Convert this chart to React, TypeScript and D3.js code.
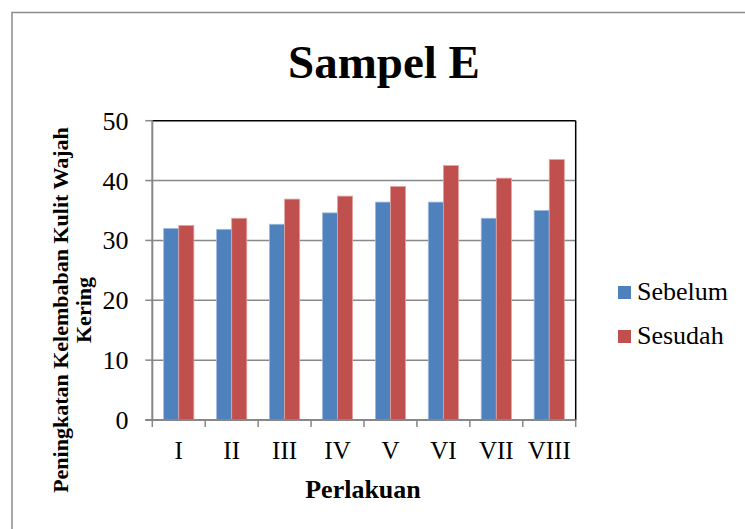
import React from "react";
import * as d3 from "d3";

const categories = ["I", "II", "III", "IV", "V", "VI", "VII", "VIII"];
const sebelum = [32.0, 31.85, 32.7, 34.6, 36.4, 36.4, 33.7, 35.0];
const sesudah = [32.5, 33.7, 36.9, 37.4, 39.0, 42.5, 40.4, 43.5];
const yTicks = [0, 10, 20, 30, 40, 50];
const seriesNames = ["Sebelum", "Sesudah"];
const seriesColors = ["#4F81BD", "#C0504D"];
const seriesStroke = ["#9DB9DE", "#E3A2A0"];

const W = 745;
const H = 529;
const plot = { left: 152.3, right: 575.7, top: 120.7, bottom: 420 };
const FF = "Liberation Serif";

export default function App() {
  const x = d3.scaleBand<string>().domain(categories).range([plot.left, plot.right]).paddingInner(0).paddingOuter(0);
  const y = d3.scaleLinear().domain([0, 50]).range([plot.bottom, plot.top]);
  const bw = x.bandwidth();
  const barW = bw * 0.285;
  const data = [sebelum, sesudah];

  return (
    <div style={{ fontFamily: FF }}>
      <svg width={W} height={H} style={{ position: "absolute", left: 0, top: 0, background: "#fff", fontFamily: FF }} fontFamily={FF}>
        <style>{`text, tspan { font-family: "Liberation Serif", "Tinos", "Times New Roman", serif; }`}</style>
        <rect x={0} y={0} width={W} height={H} fill="#fff" />
        <rect x={12} y={12.5} width={W + 20} height={H + 20} fill="none" stroke="#8c8c8c" strokeWidth={1.5} />

        {yTicks.filter((t) => t > 0 && t < 50).map((t) => (
          <line key={t} x1={plot.left} x2={plot.right} y1={y(t)} y2={y(t)} stroke="#888" strokeWidth={1.5} />
        ))}
        <line x1={plot.left} x2={plot.right} y1={plot.top} y2={plot.top} stroke="#000" strokeWidth={1.5} />
        <line x1={plot.right} x2={plot.right} y1={plot.top} y2={plot.bottom} stroke="#000" strokeWidth={1.5} />

        {categories.map((c, i) => {
          const cx = (x(c) as number) + bw / 2;
          return data.map((s, k) => (
            <rect
              key={c + k}
              x={cx - barW + k * barW}
              y={y(s[i])}
              width={barW}
              height={plot.bottom - y(s[i])}
              fill={seriesColors[k]}
              stroke={seriesStroke[k]}
              strokeWidth={0.8}
            />
          ));
        })}

        <line x1={plot.left} x2={plot.left} y1={plot.top} y2={plot.bottom} stroke="#878787" strokeWidth={2} />
        <line x1={plot.left - 7} x2={plot.right} y1={plot.bottom} y2={plot.bottom} stroke="#878787" strokeWidth={2} />
        {yTicks.map((t) => (
          <line key={t} x1={plot.left - 7} x2={plot.left} y1={y(t)} y2={y(t)} stroke="#878787" strokeWidth={1.5} />
        ))}
        {[...categories.map((c) => x(c) as number), plot.right].map((v, i) => (
          <line key={i} x1={v} x2={v} y1={plot.bottom} y2={plot.bottom + 7} stroke="#878787" strokeWidth={1.5} />
        ))}

        {/* texts */}
        <text x={384} y={77.5} textAnchor="middle" fontSize={47} fontWeight="bold">Sampel E</text>
        {yTicks.map((t) => (
          <text key={t} x={128.5} y={y(t) + 9} textAnchor="end" fontSize={26}>{String(t)}</text>
        ))}
        {categories.map((c) => (
          <text key={c} x={(x(c) as number) + bw / 2} y={459} textAnchor="middle" fontSize={25}>{c}</text>
        ))}
        <text x={363} y={498} textAnchor="middle" fontSize={26} fontWeight="bold">Perlakuan</text>
        <text transform="translate(68,310) rotate(-90)" textAnchor="middle" fontSize={22} fontWeight="bold">
          <tspan x={0} y={0}>Peningkatan Kelembaban Kulit Wajah</tspan>
          <tspan x={0} y={23}>Kering</tspan>
        </text>

        {seriesNames.map((n, k) => (
          <g key={n}>
            <rect x={618} y={286 + k * 44} width={13} height={13} fill={seriesColors[k]} />
            <text x={637} y={300 + k * 44} fontSize={26}>{n}</text>
          </g>
        ))}
      </svg>
    </div>
  );
}
